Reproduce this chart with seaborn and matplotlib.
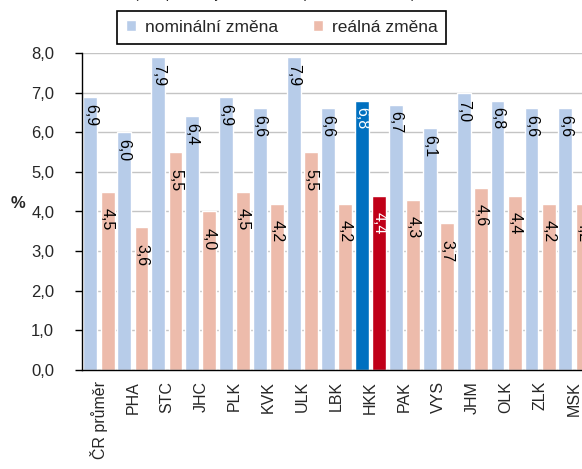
import numpy as np
import pandas as pd
import matplotlib
matplotlib.use("Agg")
import matplotlib.pyplot as plt
from matplotlib.ticker import FuncFormatter, FixedLocator
import seaborn as sns

# data
kraje = ["ČR průměr", "PHA", "STC", "JHC", "PLK", "KVK", "ULK", "LBK",
         "HKK", "PAK", "VYS", "JHM", "OLK", "ZLK", "MSK"]
nominalni = [6.9, 6.0, 7.9, 6.4, 6.9, 6.6, 7.9, 6.6, 6.8, 6.7, 6.1, 7.0, 6.8, 6.6, 6.6]
realna = [4.5, 3.6, 5.5, 4.0, 4.5, 4.2, 5.5, 4.2, 4.4, 4.3, 3.7, 4.6, 4.4, 4.2, 4.2]
serie = ["nominální změna", "reálná změna"]
zvyrazneny = "HKK"

df = pd.DataFrame({
    "kraj": kraje * 2,
    "hodnota": nominalni + realna,
    "typ": [serie[0]] * len(kraje) + [serie[1]] * len(kraje),
})

sns.set_style("white")
plt.rcParams["font.family"] = ["Liberation Sans", "DejaVu Sans"]

fig = plt.figure(figsize=(5.82, 4.69), dpi=100)
# axes run slightly past the right edge, like the cropped original
ax = fig.add_axes([82 / 582, 1 - 370 / 469, 509 / 582, 317 / 469])

sns.barplot(data=df, x="kraj", y="hodnota", hue="typ", order=kraje,
            palette=["#B7CCE9", "#EDBBAB"], saturation=1,
            width=1.02, gap=0.2, ax=ax)

# highlight the Hradec Kralove region
i_hkk = kraje.index(zvyrazneny)
ax.containers[0][i_hkk].set_facecolor("#0070C0")
ax.containers[1][i_hkk].set_facecolor("#C00018")

# value labels inside bars, rotated
for ci, cont in enumerate(ax.containers):
    for j, bar in enumerate(cont):
        h = bar.get_height()
        xc = bar.get_x() + bar.get_width() / 2
        barva = "white" if j == i_hkk else "black"
        ax.annotate(f"{h:.1f}".replace(".", ","), (xc, h),
                    xytext=(0, -5 if ci == 0 else -12), textcoords="offset points",
                    rotation=270, ha="center", va="top",
                    fontsize=11.5, color=barva)

ax.set_ylim(0, 8)
ax.set_xlim(-0.5, len(kraje) - 0.5)
ax.yaxis.set_major_locator(FixedLocator(np.arange(0, 8.01, 1)))
ax.yaxis.set_major_formatter(FuncFormatter(lambda v, p: f"{v:.1f}".replace(".", ",")))
ax.yaxis.grid(True, color="#C4C4C4", lw=1)
ax.set_axisbelow(True)

ax.set_xticks(range(len(kraje)))
ax.set_xticklabels(kraje, rotation=90, fontsize=11.5)
ax.set_xticks(np.arange(-0.5, len(kraje), 1), minor=True)
ax.tick_params(axis="x", which="major", length=0, pad=8)
ax.tick_params(axis="x", which="minor", length=5, width=1, direction="out", color="black")
ax.tick_params(axis="y", length=5, width=1, direction="out", color="black",
               labelsize=12, pad=15, left=True)

ax.set_xlabel("")
ax.set_ylabel("%", rotation=0, fontsize=12, fontweight="bold")
ax.yaxis.set_label_coords(-0.125, 0.5)

for s in ["top", "right"]:
    ax.spines[s].set_visible(False)
for s in ["left", "bottom"]:
    ax.spines[s].set_color("black")
    ax.spines[s].set_linewidth(1)

handles, labels = ax.get_legend_handles_labels()
ax.get_legend().remove()
leg = fig.legend(handles, labels, loc="center", ncol=2,
                 bbox_to_anchor=(281.5 / 582, 1 - 27.5 / 469),
                 fontsize=12.5, handlelength=0.6, handleheight=0.6,
                 handletextpad=0.5, columnspacing=2.0,
                 borderpad=0.5, borderaxespad=0, fancybox=False, framealpha=1)
leg.get_frame().set_edgecolor("black")
leg.get_frame().set_linewidth(1.2)

# subtitle of the original, cut off at the top of the picture
fig.text(275 / 582, 1 + 2 / 469, "(v % proti stejnému období předchozího roku)",
         ha="center", va="baseline", fontsize=10)

fig.savefig("out.png", dpi=100)
